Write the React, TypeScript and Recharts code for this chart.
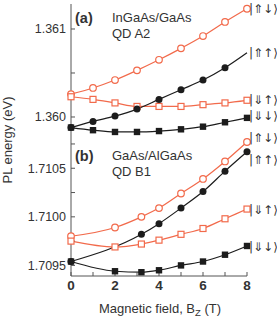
import React from "react";
import { Line, LineChart, XAxis, YAxis } from "recharts";

// Panel (a): InGaAs/GaAs QD A2, B = 0..8 T
const fieldA = [0, 1, 2, 3, 4, 5, 6, 7, 8];
const aUpDown = [1.36026, 1.36033, 1.36042, 1.36053, 1.36065, 1.36078, 1.36092, 1.36108, 1.36123];
const aDownUp = [1.36023, 1.3602, 1.36016, 1.36012, 1.36012, 1.36012, 1.36014, 1.36016, 1.36019];
const aUpUp = [1.35988, 1.35995, 1.36001, 1.36009, 1.3602, 1.36031, 1.36042, 1.36056, 1.36073];
const aDownDown = [1.35988, 1.35985, 1.35983, 1.35983, 1.35984, 1.35986, 1.35989, 1.35994, 1.35999];

// Panel (b): GaAs/AlGaAs QD B1
const fieldB = [0, 2, 3.2, 4, 5, 6, 7, 8];
const fieldBUpUp = [0, 3.2, 4, 5, 6, 7, 8];
const bUpDown = [1.7098, 1.70989, 1.71, 1.71009, 1.71024, 1.71039, 1.71057, 1.71077];
const bDownUp = [1.70975, 1.70969, 1.70972, 1.70976, 1.70982, 1.70988, 1.70998, 1.71008];
const bUpUp = [1.70954, 1.70982, 1.70993, 1.71009, 1.71026, 1.71047, 1.71067];
const bDownDown = [1.70954, 1.70944, 1.70943, 1.70945, 1.7095, 1.70954, 1.70961, 1.7097];

const xTicks = [0, 1, 2, 3, 4, 5, 6, 7, 8];
const xLabels = [0, 2, 4, 6, 8];
const yTicksA = [1.36, 1.3605, 1.361];
const yLabelsA = [1.36, 1.361];
const yTicksB = [1.7095, 1.70975, 1.71, 1.71025, 1.7105, 1.71075];
const yLabelsB = [1.7095, 1.71, 1.7105];

const ORANGE = "#f26a4b";
const BLACK = "#1c1c1c";
const AXIS = "#555";
const FONT = "'Liberation Sans', Arial, sans-serif";

const rows = (xs: number[], ys: number[]) => xs.map((b, i) => ({ b, e: ys[i] }));

const openCircle = (p: any) => (
  <circle key={`oc${p.index}`} cx={p.cx} cy={p.cy} r={3.3} fill="#fff" stroke={ORANGE} strokeWidth={1.2} />
);
const openSquare = (p: any) => (
  <rect key={`os${p.index}`} x={p.cx - 3} y={p.cy - 3} width={6} height={6} fill="#fff" stroke={ORANGE} strokeWidth={1.2} />
);
const filledCircle = (skipLast: boolean, n: number) => (p: any) =>
  skipLast && p.index === n - 1 ? (
    <g key={`fc${p.index}`} />
  ) : (
    <circle key={`fc${p.index}`} cx={p.cx} cy={p.cy} r={3.5} fill={BLACK} />
  );
const filledSquare = (p: any) => (
  <rect key={`fs${p.index}`} x={p.cx - 3.2} y={p.cy - 3.2} width={6.4} height={6.4} fill={BLACK} />
);

const noTick = () => <g />;

const leftTick = (labels: number[], digits: number) => (p: any) => {
  const v = p.payload.value;
  if (!labels.some((l) => Math.abs(l - v) < 1e-7)) return <g />;
  return (
    <text x={66} y={p.y} dy={4.5} textAnchor="end" fontSize={12.5} fill="#333" fontFamily={FONT}>
      {v.toFixed(digits)}
    </text>
  );
};

// chart (b) starts 136px down the page, so its tick labels sit at y=154 in its own frame
const bottomTick = (p: any) => {
  const v = p.payload.value;
  if (!xLabels.includes(v)) return <g />;
  return (
    <text x={p.x} y={154} textAnchor="middle" fontSize={13.5} fontWeight="bold" fill="#333" fontFamily={FONT}>
      {v}
    </text>
  );
};

function Frame({ yTicks, domain, bottomLabels }: { yTicks: number[]; domain: number[]; bottomLabels: boolean }) {
  return [
    <XAxis
      key="xb"
      dataKey="b"
      type="number"
      domain={[0, 8]}
      ticks={xTicks}
      height={bottomLabels ? 48 : 0}
      tickSize={-4}
      tick={bottomLabels ? bottomTick : noTick}
      stroke={AXIS}
      interval={0}
    />,
    <XAxis
      key="xt"
      xAxisId="top"
      orientation="top"
      dataKey="b"
      type="number"
      domain={[0, 8]}
      ticks={xTicks}
      height={0}
      tickSize={-4}
      tick={noTick}
      stroke={AXIS}
      interval={0}
    />,
    <YAxis
      key="yl"
      type="number"
      domain={domain}
      ticks={yTicks}
      width={71}
      tickSize={-4}
      stroke={AXIS}
      interval={0}
    />,
    <YAxis
      key="yr"
      yAxisId="right"
      orientation="right"
      type="number"
      domain={domain}
      ticks={yTicks}
      width={0}
      tickSize={-4}
      tick={noTick}
      stroke={AXIS}
      interval={0}
    />,
  ];
}

export default function App() {
  const domainA = [1.359784, 1.361284];
  const domainB = [1.709391, 1.710832];
  return (
    <div style={{ position: "absolute", left: 0, top: 0, width: 277, height: 324, background: "#fff", fontFamily: FONT }}>
      <div style={{ position: "absolute", left: 0, top: 0 }}>
        <LineChart width={277} height={136} margin={{ top: 4, right: 30, bottom: 0, left: 0 }}>
          {Frame({ yTicks: yTicksA, domain: domainA, bottomLabels: false }).map((el, i) =>
            i === 2 ? React.cloneElement(el, { tick: leftTick(yLabelsA, 3) }) : el
          )}
          <Line data={rows(fieldA, aUpDown)} dataKey="e" type="monotone" stroke={ORANGE} strokeWidth={1.2} dot={openCircle} isAnimationActive={false} />
          <Line data={rows(fieldA, aDownUp)} dataKey="e" type="monotone" stroke={ORANGE} strokeWidth={1.2} dot={openSquare} isAnimationActive={false} />
          <Line data={rows(fieldA, aUpUp)} dataKey="e" type="monotone" stroke={BLACK} strokeWidth={1.2} dot={filledCircle(true, fieldA.length)} isAnimationActive={false} />
          <Line data={rows(fieldA, aDownDown)} dataKey="e" type="monotone" stroke={BLACK} strokeWidth={1.2} dot={filledSquare} isAnimationActive={false} />
        </LineChart>
      </div>
      <div style={{ position: "absolute", left: 0, top: 136 }}>
        <LineChart width={277} height={188} margin={{ top: 0, right: 30, bottom: 0, left: 0 }}>
          {Frame({ yTicks: yTicksB, domain: domainB, bottomLabels: true }).map((el, i) =>
            i === 2 ? React.cloneElement(el, { tick: leftTick(yLabelsB, 4) }) : el
          )}
          <Line data={rows(fieldB, bUpDown)} dataKey="e" type="monotone" stroke={ORANGE} strokeWidth={1.2} dot={openCircle} isAnimationActive={false} />
          <Line data={rows(fieldB, bDownUp)} dataKey="e" type="monotone" stroke={ORANGE} strokeWidth={1.2} dot={openSquare} isAnimationActive={false} />
          <Line data={rows(fieldBUpUp, bUpUp)} dataKey="e" type="monotone" stroke={BLACK} strokeWidth={1.2} dot={filledCircle(false, fieldBUpUp.length)} isAnimationActive={false} />
          <Line data={rows(fieldB, bDownDown)} dataKey="e" type="monotone" stroke={BLACK} strokeWidth={1.2} dot={filledSquare} isAnimationActive={false} />
        </LineChart>
      </div>
      <svg width={277} height={324} style={{ position: "absolute", left: 0, top: 0, pointerEvents: "none" }}>
        <g fontFamily={FONT} fill="#333">
          <text x={75} y={23} fontSize={14.5} fontWeight="bold">(a)</text>
          <text x={112} y={22} fontSize={13}>InGaAs/GaAs</text>
          <text x={112} y={38} fontSize={13}>QD A2</text>
          <text x={75} y={161} fontSize={14.5} fontWeight="bold">(b)</text>
          <text x={112} y={160} fontSize={13}>GaAs/AlGaAs</text>
          <text x={112} y={176} fontSize={13}>QD B1</text>
          <text transform="translate(12,140) rotate(-90)" textAnchor="middle" fontSize={13}>PL energy (eV)</text>
          <text x={160} y={313} textAnchor="middle" fontSize={13}>
            Magnetic field, B<tspan fontSize={9.5} dy={3}>Z</tspan>
            <tspan dy={-3}> (T)</tspan>
          </text>
        </g>
        <g fontFamily="'DejaVu Sans', sans-serif" fontSize={12} fill="#333">
          <text x={249} y={13}>|⇑↓⟩</text>
          <text x={249} y={57}>|⇑↑⟩</text>
          <text x={249} y={104}>|⇓↑⟩</text>
          <text x={249} y={120}>|⇓↓⟩</text>
          <text x={249} y={142}>|⇑↓⟩</text>
          <text x={249} y={164}>|⇑↑⟩</text>
          <text x={249} y={214}>|⇓↑⟩</text>
          <text x={249} y={251}>|⇓↓⟩</text>
        </g>
      </svg>
    </div>
  );
}
